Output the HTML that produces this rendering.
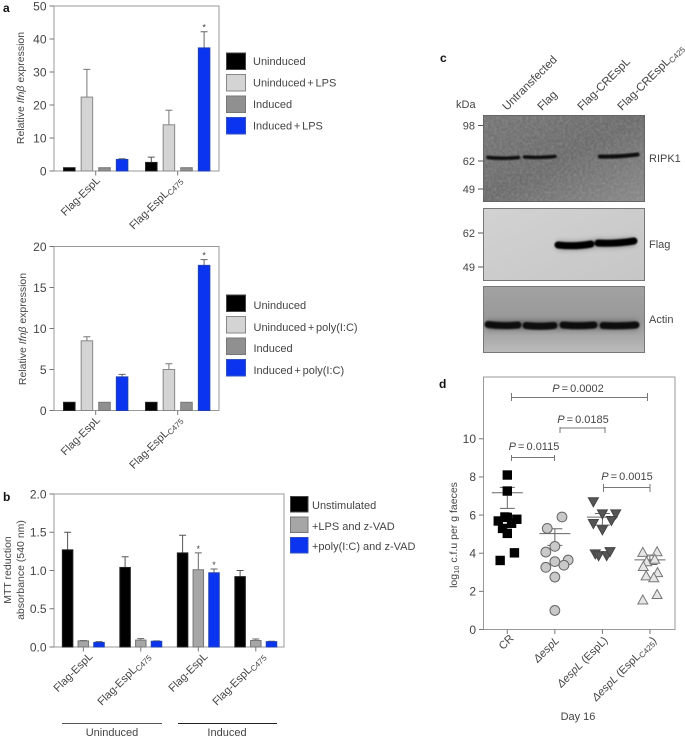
<!DOCTYPE html>
<html><head><meta charset="utf-8">
<style>
html,body{margin:0;padding:0;background:#fff;width:685px;height:739px;overflow:hidden}
svg{display:block;font-family:"Liberation Sans",sans-serif;fill:#444}
text{font-size:11px}
.pl{font-weight:bold;font-size:12px;fill:#111}
.ns{word-spacing:-1.3px}
</style></head>
<body>
<svg id="fig" width="685" height="739" viewBox="0 0 685 739" xmlns="http://www.w3.org/2000/svg">
<defs>
<linearGradient id="gr1" x1="0" y1="0" x2="1" y2="1"><stop offset="0" stop-color="#767676"/><stop offset=".5" stop-color="#6c6c6c"/><stop offset="1" stop-color="#8a8a8a"/></linearGradient>
<linearGradient id="gr2" x1="0" y1="0" x2="1" y2="1"><stop offset="0" stop-color="#d2d2d2"/><stop offset="1" stop-color="#c6c6c6"/></linearGradient>
<linearGradient id="gr3" x1="0" y1="0" x2="0" y2="1"><stop offset="0" stop-color="#a2a2a2"/><stop offset=".55" stop-color="#989898"/><stop offset="1" stop-color="#bcbcbc"/></linearGradient>
<filter id="blur" filterUnits="userSpaceOnUse" x="480" y="110" width="170" height="250"><feGaussianBlur stdDeviation="0.8"/></filter>
<filter id="halo" filterUnits="userSpaceOnUse" x="480" y="110" width="170" height="250"><feGaussianBlur stdDeviation="2.5"/></filter>
<filter id="grain" x="0" y="0" width="100%" height="100%"><feTurbulence type="fractalNoise" baseFrequency="0.35" numOctaves="2" seed="4"/><feColorMatrix values="0 0 0 0 0.5  0 0 0 0 0.5  0 0 0 0 0.5  1.4 0 0 0 -0.45"/></filter>
</defs>

<!-- panel letters -->
<text class="pl" x="3" y="12">a</text>
<text class="pl" x="3" y="501">b</text>
<text class="pl" x="440" y="62">c</text>
<text class="pl" x="439" y="388">d</text>

<!-- axis titles -->
<text transform="translate(24,88) rotate(-90)" text-anchor="middle" style="font-size:10.5px">Relative <tspan font-style="italic">Ifnβ</tspan> expression</text>
<text transform="translate(26,329) rotate(-90)" text-anchor="middle" style="font-size:10.5px">Relative <tspan font-style="italic">Ifnβ</tspan> expression</text>
<text transform="translate(11,570) rotate(-90)" text-anchor="middle" style="font-size:10.5px">MTT reduction</text>
<text transform="translate(24,570) rotate(-90)" text-anchor="middle" style="font-size:10.5px">absorbance (540 nm)</text>
<text transform="translate(457,535) rotate(-90)" text-anchor="middle" style="font-size:10.5px">log<tspan dy="2" style="font-size:7.5px">10</tspan><tspan dy="-2"> c.f.u per g faeces</tspan></text>

<!-- legends -->
<g>
<rect x="226.5" y="53" width="19" height="16.5" fill="#000" stroke="#444"/>
<rect x="226.5" y="74.5" width="19" height="16.5" fill="#d4d4d4" stroke="#888"/>
<rect x="226.5" y="96" width="19" height="16.5" fill="#909090" stroke="#777"/>
<rect x="226.5" y="117.5" width="19" height="16.5" fill="#0a34f0" stroke="#3050c0"/>
<text x="253" y="65">Uninduced</text>
<text class="ns" x="253" y="86.5">Uninduced + LPS</text>
<text x="253" y="108">Induced</text>
<text class="ns" x="253" y="129.5">Induced + LPS</text>
</g>
<g>
<rect x="226.5" y="295" width="19" height="16.5" fill="#000" stroke="#444"/>
<rect x="226.5" y="316.5" width="19" height="16.5" fill="#d4d4d4" stroke="#888"/>
<rect x="226.5" y="338" width="19" height="16.5" fill="#909090" stroke="#777"/>
<rect x="226.5" y="359.5" width="19" height="16.5" fill="#0a34f0" stroke="#3050c0"/>
<text x="253.5" y="309">Uninduced</text>
<text class="ns" x="253.5" y="331">Uninduced + poly(I:C)</text>
<text x="253.5" y="352">Induced</text>
<text class="ns" x="253.5" y="374">Induced + poly(I:C)</text>
</g>
<g>
<rect x="290.5" y="496.5" width="17.5" height="15.5" fill="#000" stroke="#444"/>
<rect x="290.5" y="517" width="17.5" height="15.5" fill="#a6a6a6" stroke="#777"/>
<rect x="290.5" y="537.5" width="17.5" height="15.5" fill="#0a34f0" stroke="#3050c0"/>
<text x="312" y="509">Unstimulated</text>
<text x="312" y="530">+LPS and z-VAD</text>
<text x="312" y="550">+poly(I:C) and z-VAD</text>
</g>

<!-- panel b group brackets -->
<line x1="62" x2="162" y1="723.5" y2="723.5" stroke="#555"/>
<line x1="178" x2="277" y1="723.5" y2="723.5" stroke="#222"/>
<text x="112" y="736" text-anchor="middle">Uninduced</text>
<text x="227" y="736" text-anchor="middle">Induced</text>

<!-- panel c western blots -->
<g>
<text x="456" y="108">kDa</text>
<text transform="translate(507,111) rotate(-45)" style="font-size:11.5px">Untransfected</text>
<text transform="translate(542,111) rotate(-45)" style="font-size:11.5px">Flag</text>
<text transform="translate(582,111) rotate(-45)" style="font-size:11.5px">Flag-CREspL</text>
<text transform="translate(622,111) rotate(-45)" style="font-size:11.5px">Flag-CREspL<tspan dy="2" style="font-size:8px">C425</tspan></text>

<g>
<rect x="483.5" y="115.5" width="161" height="86" fill="url(#gr1)" stroke="#666"/>
<rect x="484" y="116" width="160" height="85" filter="url(#grain)" opacity=".35"/>
<g filter="url(#blur)" stroke="#0c0c0c" stroke-width="3.4" fill="none" stroke-linecap="round">
<path d="M488 157.5Q503 159 518.5 157.5"/>
<path d="M524.5 157Q540 158 555 156.5"/>
<path d="M600 156.5Q620 157 637.5 154.5" stroke-width="4"/>
</g></g>
<g>
<rect x="483.5" y="208.5" width="161" height="72" fill="url(#gr2)" stroke="#777"/>
<path d="M557 245Q575 247 592 244L597 243Q615 244 635 241.5" stroke="#333" stroke-width="9" fill="none" opacity=".35" filter="url(#halo)"/>
<g filter="url(#blur)" stroke="#060606" stroke-width="7" fill="none" stroke-linecap="round">
<path d="M558 245Q575 247 591 244"/>
<path d="M598 243Q615 244 634 241"/>
</g></g>
<g>
<rect x="483.5" y="286.5" width="161" height="66" fill="url(#gr3)" stroke="#777"/>
<path d="M487 325H637" stroke="#333" stroke-width="10" fill="none" opacity=".4" filter="url(#halo)"/>
<g filter="url(#blur)" stroke="#0a0a0a" stroke-width="7" fill="none" stroke-linecap="round">
<path d="M488 324.5Q503 326.5 518 325"/>
<path d="M526 325.5Q540 327 554 325.5"/>
<path d="M563 325Q578 326.5 594 325"/>
<path d="M603 325.5Q620 326.5 636 325"/>
</g></g>
<g stroke="#555">
<line x1="478" x2="483" y1="125.5" y2="125.5"/>
<line x1="478" x2="483" y1="161" y2="161"/>
<line x1="478" x2="483" y1="189" y2="189"/>
<line x1="478" x2="483" y1="233" y2="233"/>
<line x1="478" x2="483" y1="267" y2="267"/>
</g>
<text x="475" y="129.5" text-anchor="end">98</text>
<text x="475" y="165" text-anchor="end">62</text>
<text x="475" y="193" text-anchor="end">49</text>
<text x="475" y="237" text-anchor="end">62</text>
<text x="475" y="271" text-anchor="end">49</text>
<text x="649" y="162">RIPK1</text>
<text x="649" y="248">Flag</text>
<text x="649" y="323">Actin</text>
</g>

<!-- panel d statistics -->
<g stroke="#777" fill="none">
<path d="M511.5 393V401M511.5 397.5H647.5M647.5 393V401"/>
<path d="M560 427V433M560 428H605M605 427V433"/>
<path d="M511.5 455V461M511.5 457.5H554.5M554.5 455V461"/>
<path d="M603.5 484V492M603.5 487.5H650M650 484V492"/>
</g>
<g style="font-size:11px;word-spacing:-1px">
<text x="578" y="392" text-anchor="middle"><tspan font-style="italic">P</tspan> = 0.0002</text>
<text x="583" y="423" text-anchor="middle"><tspan font-style="italic">P</tspan> = 0.0185</text>
<text x="534" y="450" text-anchor="middle"><tspan font-style="italic">P</tspan> = 0.0115</text>
<text x="627" y="480" text-anchor="middle"><tspan font-style="italic">P</tspan> = 0.0015</text>
</g>
<text x="578" y="720" text-anchor="middle">Day 16</text>
</svg>

<script>
// Panel a (LPS) values
const espLGroups = ['Flag-EspL', 'Flag-EspL'];
const lpsUninduced = [1, 2.6];
const lpsUninducedLps = [22.4, 14];
const lpsInduced = [1, 1];
const lpsInducedLps = [3.5, 37.3];
const lpsUninducedErr = [1, 4.2];
const lpsUninducedLpsErr = [30.8, 18.4];
const lpsInducedErr = [1, 1];
const lpsInducedLpsErr = [3.7, 42.2];
const lpsTicks = [0, 10, 20, 30, 40, 50];

// Panel a (poly(I:C)) values
const polyUninduced = [1, 1];
const polyUninducedPoly = [8.5, 5];
const polyInduced = [1, 1];
const polyInducedPoly = [4.1, 17.7];
const polyUninducedErr = [1, 1];
const polyUninducedPolyErr = [9.0, 5.7];
const polyInducedErr = [1, 1];
const polyInducedPolyErr = [4.4, 18.4];
const polyTicks = [0, 5, 10, 15, 20];

// Panel b values
const mttTicks = [0, 0.5, 1, 1.5, 2];
const mttUnstimulated = [1.27, 1.04, 1.23, 0.92];
const mttLpsZvad = [0.08, 0.09, 1.01, 0.085];
const mttPolyZvad = [0.06, 0.075, 0.97, 0.07];
const mttUnstimulatedErr = [1.5, 1.18, 1.46, 1.0];
const mttLpsZvadErr = [0.085, 0.11, 1.23, 0.105];
const mttPolyZvadErr = [0.07, 0.08, 1.02, 0.075];

// Panel d values
const cfuCategories = ['CR', 'espL', 'espL (EspL)', 'espL (EspL C425)'];
const cfuTicks = [0, 2, 4, 6, 8, 10];
const cfuCR = [8.1, 7.26, 3.62, 4.02, 5.69, 5.88, 5.78, 5.3, 5.04, 5.57, 5.9];
const cfuCRJitter = [0, 0, -0.15, 0.15, -0.19, 0, 0.2, -0.1, 0, 0.09, -0.05];
const cfuEspL = [5.9, 5.3, 4.36, 4.06, 3.64, 3.56, 3.37, 3.26, 2.75, 1];
const cfuEspLJitter = [0.15, -0.16, 0, -0.19, 0.28, 0, 0.19, -0.19, 0, 0];
const cfuComp = [6.68, 6.05, 6.05, 5.54, 5.7, 5.21, 3.95, 3.85, 3.86, 4.07];
const cfuCompJitter = [-0.19, 0, 0.28, -0.19, 0.19, 0, -0.15, -0.08, 0.09, 0.16];
const cfuC425 = [4.06, 4.09, 3.57, 3.32, 3.7, 3.0, 2.83, 2.73, 1.85, 1.56];
const cfuC425Jitter = [-0.15, 0.15, -0.07, -0.14, 0.1, 0.16, -0.08, 0.08, 0.15, -0.15];
const cfuMeans = [7.17, 5.03, 5.89, 3.65];
const cfuErrHigh = [7.45, 5.28, 6.08, 3.9];
const cfuErrLow = [6.35, 4.41, 5.47, 3.41];

const NS = 'http://www.w3.org/2000/svg';
const svg = document.getElementById('fig');

function mk(tag, attrs, parent) {
  const el = document.createElementNS(NS, tag);
  for (const k in attrs) el.setAttribute(k, attrs[k]);
  (parent || svg).appendChild(el);
  return el;
}

function linearScale(d0, d1, r0, r1) {
  return v => r0 + (v - d0) * (r1 - r0) / (d1 - d0);
}

function drawFrame(name, box, ticks, fmt) {
  const g = mk('g', {});
  
  
  const frame = mk('rect', { x: box.l, y: box.t, width: box.r - box.l, height: box.b - box.t, fill: 'none', stroke: '#999' }, g);
  
  
  const y = linearScale(box.d0, box.d1, box.b, box.t);
  ticks.forEach(t => {
    const tick = mk('line', { x1: box.l - 4.5, x2: box.l, y1: y(t), y2: y(t), stroke: '#777' }, g);
    
    
    const lbl = mk('text', { x: box.l - 7.5, y: y(t) + 4.3, 'text-anchor': 'end', style: 'font-size:12px' }, g);
    lbl.textContent = fmt(t);
    
    
  });
  return y;
}

function drawBars(name, box, y, cx, values, errs, offset, style) {
  values.forEach((v, i) => {
    const x = cx(i) + offset;
    const e = errs[i];
    if (e > v) {
      const err = mk('path', { d: 'M' + x + ' ' + y(v) + 'V' + y(e) + 'M' + (x - style.cap) + ' ' + y(e) + 'H' + (x + style.cap), stroke: style.err, fill: 'none' });
      
      
    }
    const bar = mk('rect', { x: x - style.w / 2, y: y(v), width: style.w, height: y(box.d0) - y(v), fill: style.fill, stroke: style.stroke });
    
    
  });
}

function star(x, yy) {
  const s = mk('text', { x: x, y: yy, 'text-anchor': 'middle', style: 'font-size:9px' });
  s.textContent = '*';
  
  
}

function xLabel(name, x, yy, main, sub) {
  const t = mk('text', { transform: 'translate(' + x + ',' + yy + ') rotate(-45)', 'text-anchor': 'end' });
  t.textContent = main;
  if (sub) {
    const ts = mk('tspan', { dy: 2, style: 'font-size:8px' }, t);
    ts.textContent = sub;
  }
  
  
}

const BLACK = { fill: '#000', stroke: '#222', err: '#555' };
const LIGHT = { fill: '#d4d4d4', stroke: '#888', err: '#777' };
const MID = { fill: '#909090', stroke: '#777', err: '#777' };
const BLUE = { fill: '#0a34f0', stroke: '#2040b0', err: '#666' };
const MIDB = { fill: '#a6a6a6', stroke: '#777', err: '#666' };

function fourBarPanel(name, box, ticks, series, errs) {
  const y = drawFrame(name, box, ticks, t => String(t));
  const cx = i => 95.7 + 82 * i;
  const styles = [BLACK, LIGHT, MID, BLUE];
  series.forEach((s, k) => {
    drawBars(name, box, y, cx, s, errs[k], (k - 1.5) * 17.6, Object.assign({ w: 11.5, cap: 3.5 }, styles[k]));
  });
  espLGroups.forEach((g, i) => {
    const tick = mk('line', { x1: cx(i), x2: cx(i), y1: box.b, y2: box.b + 4.5, stroke: '#777' });
    
    
    xLabel(name + '-x-label', cx(i) + 5, box.b + 10, g, i ? 'C475' : '');
  });
  star(cx(1) + 1.5 * 17.6, y(Math.max(...errs[3])) - 1);
}

fourBarPanel('lps-chart', { l: 54, r: 219, t: 6, b: 171, d0: 0, d1: 50 }, lpsTicks,
  [lpsUninduced, lpsUninducedLps, lpsInduced, lpsInducedLps],
  [lpsUninducedErr, lpsUninducedLpsErr, lpsInducedErr, lpsInducedLpsErr]);

fourBarPanel('polyic-chart', { l: 54, r: 219, t: 246.5, b: 410.5, d0: 0, d1: 20 }, polyTicks,
  [polyUninduced, polyUninducedPoly, polyInduced, polyInducedPoly],
  [polyUninducedErr, polyUninducedPolyErr, polyInducedErr, polyInducedPolyErr]);

(function () {
  const name = 'mtt-chart';
  const box = { l: 54, r: 284, t: 494, b: 647, d0: 0, d1: 2 };
  const y = drawFrame(name, box, mttTicks, t => t.toFixed(1));
  const cx = i => 83.3 + 57.5 * i;
  const series = [mttUnstimulated, mttLpsZvad, mttPolyZvad];
  const errs = [mttUnstimulatedErr, mttLpsZvadErr, mttPolyZvadErr];
  const styles = [BLACK, MIDB, BLUE];
  series.forEach((s, k) => {
    drawBars(name, box, y, cx, s, errs[k], (k - 1) * 15.7, Object.assign({ w: 10.5, cap: 3.5 }, styles[k]));
  });
  mttUnstimulated.forEach((v, i) => {
    const tick = mk('line', { x1: cx(i), x2: cx(i), y1: box.b, y2: box.b + 4.5, stroke: '#777' });
    
    
    xLabel('mtt-x-label', cx(i) + 10, box.b + 10, 'Flag-EspL', i % 2 ? 'C475' : '');
  });
  star(cx(2), y(mttLpsZvadErr[2]) - 1);
  star(cx(2) + 15.7, y(mttPolyZvadErr[2]) - 1);
})();

(function () {
  const name = 'cfu-chart';
  const box = { l: 483.5, r: 675, t: 377, b: 629.5, d0: 0, d1: 13.24 };
  const y = drawFrame(name, box, cfuTicks, t => String(t));
  const spacing = 47.55;
  const cx = i => 507.3 + spacing * i;

  const datasets = [[cfuCR, cfuCRJitter], [cfuEspL, cfuEspLJitter], [cfuComp, cfuCompJitter], [cfuC425, cfuC425Jitter]];

  datasets.forEach((d, c) => {
    const hw = 15.5, cw = 7.5;
    const stat = mk('path', {
      d: 'M' + (cx(c) - hw) + ' ' + y(cfuMeans[c]) + 'H' + (cx(c) + hw) +
         'M' + cx(c) + ' ' + y(cfuErrHigh[c]) + 'V' + y(cfuErrLow[c]) +
         'M' + (cx(c) - cw) + ' ' + y(cfuErrHigh[c]) + 'H' + (cx(c) + cw) +
         'M' + (cx(c) - cw) + ' ' + y(cfuErrLow[c]) + 'H' + (cx(c) + cw),
      fill: 'none', stroke: '#666'
    });
    
    

    d[0].forEach((v, i) => {
      const px = cx(c) + d[1][i] * spacing;
      const py = y(v);
      let m;
      if (c === 0) {
        m = mk('rect', { x: px - 4.7, y: py - 4.7, width: 9.4, height: 9.4, fill: '#000' });
      } else if (c === 1) {
        m = mk('circle', { cx: px, cy: py, r: 4.9, fill: '#c9c9c9', stroke: '#666' });
      } else if (c === 2) {
        m = mk('path', { d: 'M' + (px - 5) + ' ' + (py - 4.3) + 'H' + (px + 5) + 'L' + px + ' ' + (py + 4.7) + 'Z', fill: '#555', stroke: '#444' });
      } else {
        m = mk('path', { d: 'M' + (px - 5) + ' ' + (py + 4.3) + 'H' + (px + 5) + 'L' + px + ' ' + (py - 4.7) + 'Z', fill: '#e6e6e6', stroke: '#777' });
      }
      
      
    });

    const tick = mk('line', { x1: cx(c), x2: cx(c), y1: box.b, y2: box.b + 4.5, stroke: '#777' });
    
    
  });

  const labelT = 'translate(';
  const l0 = mk('text', { transform: labelT + (cx(0) + 7) + ',' + 639 + ') rotate(-45)', 'text-anchor': 'end' });
  l0.textContent = cfuCategories[0];
  
  

  const l1 = mk('text', { transform: labelT + (cx(1) + 5) + ',' + 641 + ') rotate(-45)', 'text-anchor': 'end', style: 'font-style:italic' });
  l1.textContent = '\u0394espL';
  
  

  const l2 = mk('text', { transform: labelT + (cx(2) + 6) + ',' + 641 + ') rotate(-45)', 'text-anchor': 'end' });
  const l2a = mk('tspan', { style: 'font-style:italic' }, l2);
  l2a.textContent = '\u0394espL';
  const l2b = mk('tspan', {}, l2);
  l2b.textContent = ' (EspL)';
  
  

  const l3 = mk('text', { transform: labelT + (cx(3) + 7) + ',' + 641 + ') rotate(-45)', 'text-anchor': 'end' });
  const l3a = mk('tspan', { style: 'font-style:italic' }, l3);
  l3a.textContent = '\u0394espL';
  const l3b = mk('tspan', {}, l3);
  l3b.textContent = ' (EspL';
  const l3c = mk('tspan', { dy: 2, style: 'font-size:8px' }, l3);
  l3c.textContent = 'C425';
  const l3d = mk('tspan', { dy: -2 }, l3);
  l3d.textContent = ')';
  
  
})();
</script>
</body></html>
